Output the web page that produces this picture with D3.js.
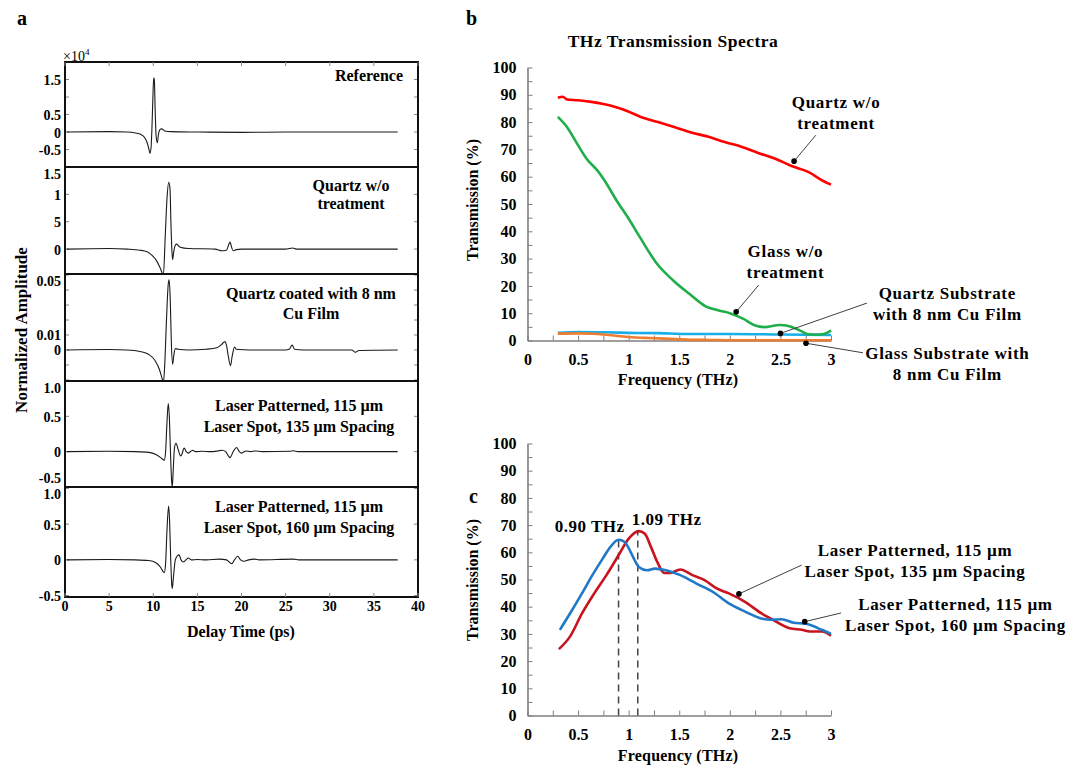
<!DOCTYPE html>
<html>
<head>
<meta charset="utf-8">
<script src="https://d3js.org/d3.v7.min.js"></script>
<style>
body { margin: 0; background: #fff; }
svg { display: block; }
text { font-family: 'Liberation Serif', 'Times New Roman', serif; font-weight: bold; fill: #000; }
</style>
</head>
<body>
<svg width="1083" height="765"></svg>
<script>
// ---------- panel a : time-domain pulses, [delay (ps), amplitude] ----------
var refTrace = [[0.2,0],[5,0.01],[7,0],[8,-0.03],[8.6,-0.07],[9.0,-0.15],[9.3,-0.3],[9.5,-0.48],[9.63,-0.61],
  [9.75,-0.45],[9.85,0.1],[9.95,0.9],[10.05,1.55],[10.12,1.5],[10.22,0.6],[10.32,-0.1],[10.46,-0.31],[10.6,-0.05],
  [10.8,0.08],[10.96,0.09],[11.3,0.03],[12,0.01],[15,0],[20,-0.01],[25,0],[30,0],[37.7,0]];
var quartzTrace = [[0.2,0],[5,0.01],[7,0],[8.5,-0.02],[9.3,-0.05],[9.9,-0.12],[10.4,-0.22],[10.8,-0.35],[11.15,-0.47],
  [11.35,0.2],[11.55,0.9],[11.75,1.22],[11.9,1.1],[12.0,0.5],[12.12,-0.05],[12.2,-0.19],[12.32,-0.05],[12.5,0.07],
  [12.65,0.09],[13,0.04],[14,0.01],[17,0],[17.8,-0.03],[18.3,-0.02],[18.55,0.08],[18.7,0.13],[18.85,0.05],[19.05,-0.03],
  [19.4,-0.01],[20,0],[25,0],[25.8,0.02],[26.2,0],[30,0],[37.7,0]];
var cuTrace = [[0.2,0],[5,0.0003],[7,0],[8.5,-0.001],[9.5,-0.003],[10.2,-0.007],[10.7,-0.013],[11.0,-0.019],[11.15,-0.022],
  [11.3,-0.01],[11.5,0.02],[11.7,0.044],[11.8,0.0468],[11.92,0.035],[12.05,0.005],[12.2,-0.0095],[12.32,-0.004],
  [12.5,0.001],[12.8,0.0005],[14,0],[16,0.0005],[17.2,0.0015],[17.8,0.004],[18.1,0.0056],[18.3,0.003],[18.5,-0.004],
  [18.75,-0.0105],[18.95,-0.004],[19.2,0.002],[19.4,0.0005],[21,0],[25,0],[25.4,0.0005],[25.75,0.0033],[26,0.0005],
  [27,0],[32.5,0],[32.9,-0.0015],[33.3,-0.0003],[37.7,0]];
var spot135Trace = [[0.2,0],[5,0.005],[8,0],[9.5,-0.01],[10.3,-0.04],[10.8,-0.08],[11.1,-0.11],[11.25,-0.12],[11.4,0.0],
  [11.55,0.4],[11.7,0.68],[11.82,0.5],[11.95,0.0],[12.1,-0.45],[12.16,-0.49],[12.25,-0.3],[12.4,0.05],[12.58,0.12],
  [12.8,0.04],[13.1,-0.06],[13.2,-0.05],[13.5,0.05],[13.75,0.0],[13.97,-0.02],[14.2,0.0],[14.47,0.02],[14.8,0],
  [15.5,0.005],[16.5,0],[17.3,0.01],[17.8,0.02],[18.2,0.0],[18.7,-0.085],[19.05,0.0],[19.45,0.06],[19.75,0.0],
  [20.0,-0.02],[20.5,0.01],[21,0],[21.6,0.01],[22.3,0],[25.5,0.005],[25.9,0.012],[26.4,0],[37.7,0]];
var spot160Trace = [[0.2,0],[5,0.005],[8,0],[9.5,-0.01],[10.3,-0.04],[10.8,-0.1],[11.1,-0.16],[11.25,-0.18],[11.4,-0.05],
  [11.55,0.4],[11.74,0.755],[11.85,0.55],[11.98,0.0],[12.1,-0.35],[12.16,-0.4],[12.28,-0.25],[12.5,0.0],[12.75,0.06],
  [12.92,0.07],[13.15,0.0],[13.4,-0.03],[13.7,0.0],[13.97,0.025],[14.3,0],[15,0.005],[16,0],[17.5,0.01],[18.3,0.0],
  [18.9,-0.055],[19.2,0],[19.57,0.05],[19.9,0.0],[20.3,-0.02],[20.8,0],[21.5,0.01],[22,0],[25.9,0.01],[26.5,0],[37.7,0]];

var aTraces = [refTrace, quartzTrace, cuTrace, spot135Trace, spot160Trace];
var aTitles = [["Reference"], ["Quartz w/o", "treatment"], ["Quartz coated with 8 nm", "Cu Film"],
  ["Laser Patterned, 115 \u00b5m", "Laser Spot, 135 \u00b5m Spacing"],
  ["Laser Patterned, 115 \u00b5m", "Laser Spot, 160 \u00b5m Spacing"]];
var aDomains = [[-1, 2], [-0.455, 1.5], [-0.0207, 0.0507], [-0.5, 1.0], [-0.52, 1.02]];
var aTickValues = [[1.5, 1, 0.5, 0, -0.5], [1.5, 1, 0.5, 0], [0.05, 0.04, 0.03, 0.02, 0.01, 0, -0.01, -0.02],
  [1, 0.5, 0, -0.5], [1, 0.5, 0, -0.5]];
var aTickLabels = [["1.5", "", "0.5", "0", "-0.5"], ["1.5", "1", "5", "0"], ["0.05", "", "", "", "0.01", "0", "", ""],
  ["1.0", "0.5", "0", "-0.5"], ["1.0", "0.5", "0", "-0.5"]];
var delayTicks = [0, 5, 10, 15, 20, 25, 30, 35, 40];

// ---------- panel b : transmission spectra ----------
var quartzFreq = [0.3,0.35,0.39,0.5,0.63,0.75,0.86,0.99,1.12,1.29,1.45,1.62,1.79,1.95,2.12,2.28,2.45,2.61,2.78,2.91,3.0];
var quartzT    = [88.9,89.3,88.3,88.0,87.4,86.6,85.6,84.0,81.9,80.0,78.2,76.2,74.6,72.7,70.9,68.7,66.6,63.9,61.7,58.7,57.1];
var glassFreq = [0.3,0.39,0.49,0.59,0.69,0.76,0.88,1.0,1.12,1.28,1.44,1.6,1.76,1.89,2.0,2.13,2.25,2.35,2.49,2.59,2.69,2.79,2.89,2.97,3.0];
var glassT    = [81.9,78.2,72.1,66.3,62.3,58.7,51.3,44.6,37.3,28.1,22.0,17.1,12.5,11.0,10.0,8.0,5.5,4.9,5.7,5.2,3.7,2.2,2.2,3.0,3.7];
var quartzCuFreq = [0.3,0.5,0.76,1.0,1.3,1.56,2.0,2.5,3.0];
var quartzCuT    = [2.8,3.1,3.0,2.8,2.7,2.4,2.4,2.2,2.0];
var glassCuFreq = [0.3,0.5,0.65,0.8,1.0,1.2,1.4,1.6,1.8,2.0,2.5,3.0];
var glassCuT    = [2.5,2.6,2.5,2.0,1.3,0.9,0.6,0.3,0.2,0.1,0.1,0.1];

// ---------- panel c : laser patterned samples ----------
var s160Freq = [0.32,0.42,0.54,0.64,0.74,0.82,0.9,0.96,1.02,1.06,1.1,1.18,1.26,1.37,1.51,1.67,1.83,1.99,2.15,2.31,2.41,2.51,2.63,2.75,2.91,3.0];
var s160T    = [31.5,37.5,45.0,51.5,57.5,62.0,64.6,63.8,60.1,57.0,54.6,53.4,54.0,53.4,51.6,48.5,45.5,41.2,38.2,35.7,35.2,35.4,34.1,33.7,31.5,30.0];
var s135Freq = [0.31,0.42,0.54,0.66,0.78,0.9,1.0,1.1,1.16,1.22,1.29,1.35,1.41,1.51,1.63,1.75,1.87,1.99,2.15,2.31,2.43,2.59,2.71,2.79,2.91,3.0];
var s135T    = [24.4,29.0,37.6,44.9,51.6,58.9,65.0,67.8,66.8,62.0,55.9,52.4,52.4,53.7,51.6,49.8,46.7,44.9,41.8,37.6,35.1,32.1,31.5,30.9,30.9,29.3];
var peakFreq = [0.90, 1.09];
var peakT = [64.6, 67.8];
var peakLabels = ["0.90 THz", "1.09 THz"];

var svg = d3.select("svg");

// =================== panel a ===================
var aBreaks = [62, 167, 274, 381, 487, 597];
var xA = d3.scaleLinear().domain([0, 40]).range([65, 418]);
var aTitlePos = [
  { x: 403, anchor: "end", y: [81] },
  { x: 351, anchor: "middle", y: [191, 209] },
  { x: 311, anchor: "middle", y: [299, 319] },
  { x: 299, anchor: "middle", y: [411, 432] },
  { x: 299, anchor: "middle", y: [512, 533] }
];

aTraces.forEach(function (trace, i) {
  var top = aBreaks[i], bottom = aBreaks[i + 1];
  var y = d3.scaleLinear().domain(aDomains[i]).range([bottom, top]);
  var g = svg.append("g");

  g.append("clipPath").attr("id", "clipA" + i)
    .append("rect").attr("x", xA(0)).attr("y", top).attr("width", xA(40) - xA(0)).attr("height", bottom - top);

  // tick labels; at shared borders keep them inside their own box
  aTickValues[i].forEach(function (v, k) {
    if (aTickLabels[i][k] === "") return;
    var base = y(v) + 5.5;
    if (i > 0) base = Math.max(base, top + 11.5);
    if (i < aTraces.length - 1) base = Math.min(base, bottom - 4);
    g.append("text").attr("x", 61).attr("y", base)
      .attr("text-anchor", "end").style("font-size", "14px").text(aTickLabels[i][k]);
  });
  // inward ticks, both sides
  g.selectAll("line.lt").data(aTickValues[i]).enter().append("line")
    .attr("x1", xA(0)).attr("x2", xA(0) + 4).attr("y1", y).attr("y2", y)
    .attr("stroke", "#888").attr("stroke-width", 1);
  g.selectAll("line.rt").data(aTickValues[i]).enter().append("line")
    .attr("x1", xA(40)).attr("x2", xA(40) - 4).attr("y1", y).attr("y2", y)
    .attr("stroke", "#888").attr("stroke-width", 1);

  var line = d3.line().x(function (d) { return xA(d[0]); }).y(function (d) { return y(d[1]); })
    .curve(d3.curveMonotoneX);
  g.append("path").datum(trace).attr("d", line)
    .attr("clip-path", "url(#clipA" + i + ")")
    .attr("fill", "none").attr("stroke", "#1a1a1a").attr("stroke-width", 1.1);

  var tp = aTitlePos[i];
  aTitles[i].forEach(function (t, k) {
    g.append("text").attr("x", tp.x).attr("y", tp.y[k]).attr("text-anchor", tp.anchor)
      .style("font-size", "16px").text(t);
  });

  g.append("rect").attr("x", xA(0)).attr("y", top).attr("width", xA(40) - xA(0)).attr("height", bottom - top)
    .attr("fill", "none").attr("stroke", "#111").attr("stroke-width", 2);
});

// x ticks for panel a
delayTicks.forEach(function (t) {
  svg.append("line").attr("x1", xA(t)).attr("x2", xA(t)).attr("y1", 597).attr("y2", 593)
    .attr("stroke", "#888");
  svg.append("line").attr("x1", xA(t)).attr("x2", xA(t)).attr("y1", 62).attr("y2", 66)
    .attr("stroke", "#888");
  svg.append("text").attr("x", xA(t)).attr("y", 611).attr("text-anchor", "middle")
    .style("font-size", "14px").text(t);
});

var mult = svg.append("text").attr("x", 63).attr("y", 61).style("font-size", "14px").style("font-weight", "normal");
mult.append("tspan").text("\u00d710");
mult.append("tspan").attr("dy", -6).style("font-size", "9px").text("4");

svg.append("text").attr("x", 241).attr("y", 637).attr("text-anchor", "middle")
  .style("font-size", "16px").text("Delay Time (ps)");
svg.append("text").attr("transform", "translate(27,330) rotate(-90)").attr("text-anchor", "middle")
  .style("font-size", "17px").text("Normalized Amplitude");
svg.append("text").attr("x", 17).attr("y", 25).style("font-size", "20px").text("a");

// =================== panels b & c ===================
var xB = d3.scaleLinear().domain([0, 3]).range([527.5, 831]);

function drawFreqAxes(y, bottomY) {
  var g = svg.append("g");
  var yAxis = d3.axisLeft(y).tickValues(d3.range(0, 101, 5)).tickSizeInner(-5).tickSizeOuter(0)
    .tickPadding(11).tickFormat(function (d) { return d % 10 === 0 ? d : ""; });
  var xAxis = d3.axisBottom(xB).tickValues(d3.range(0, 3.001, 0.25)).tickSizeInner(-5).tickSizeOuter(0)
    .tickPadding(13).tickFormat(function (d) { return (d * 2) % 1 === 0 ? d : ""; });
  g.append("g").attr("transform", "translate(" + xB(0) + ",0)").call(yAxis);
  g.append("g").attr("transform", "translate(0," + bottomY + ")").call(xAxis);
  g.selectAll(".domain").attr("stroke", "#7f7f7f").attr("stroke-width", 1.6);
  g.selectAll(".tick line").attr("stroke", "#7f7f7f").attr("stroke-width", 1);
  g.selectAll(".tick text").attr("font-family", null).style("font-size", "16px").attr("fill", "#000");
  return g;
}

function series(freq, vals) {
  return freq.map(function (f, i) { return [f, vals[i]]; });
}

function drawLine(y, data, color) {
  var line = d3.line().x(function (d) { return xB(d[0]); }).y(function (d) { return y(d[1]); })
    .curve(d3.curveMonotoneX);
  svg.append("path").datum(data).attr("d", line)
    .attr("fill", "none").attr("stroke", color).attr("stroke-width", 2.6).attr("stroke-linejoin", "round");
}

function label(x, y, t, size, spacing) {
  return svg.append("text").attr("x", x).attr("y", y).attr("text-anchor", "middle")
    .style("font-size", size + "px").style("letter-spacing", spacing + "px").text(t);
}

function annotate(y, dot, start, lines, textF, baseT, lineGap) {
  svg.append("line").attr("x1", xB(start[0])).attr("y1", y(start[1]))
    .attr("x2", xB(dot[0])).attr("y2", y(dot[1])).attr("stroke", "#404040").attr("stroke-width", 1);
  svg.append("circle").attr("cx", xB(dot[0])).attr("cy", y(dot[1])).attr("r", 2.8).attr("fill", "#000");
  lines.forEach(function (t, k) {
    label(xB(textF), y(baseT) + k * lineGap, t, 17, 0.7);
  });
}

// ---- panel b ----
var yB = d3.scaleLinear().domain([0, 100]).range([340.5, 67.5]);
drawFreqAxes(yB, 340.5);
drawLine(yB, series(quartzCuFreq, quartzCuT), "#19aee8");
drawLine(yB, series(glassCuFreq, glassCuT), "#ee7d30");
drawLine(yB, series(glassFreq, glassT), "#1fae4a");
drawLine(yB, series(quartzFreq, quartzT), "#ff0000");

label(673, 47, "THz Transmission Spectra", 17.5, 0.5);
svg.append("text").attr("transform", "translate(478,200) rotate(-90)").attr("text-anchor", "middle")
  .style("font-size", "16px").text("Transmission (%)");
label(678, 385, "Frequency (THz)", 16, 0.2);
svg.append("text").attr("x", 466).attr("y", 25).style("font-size", "20px").text("b");

annotate(yB, [2.635, 65.7], [2.85, 75.2], ["Quartz w/o", "treatment"], 3.05, 85.2, 21);
annotate(yB, [2.063, 10.5], [2.285, 20.3], ["Glass w/o", "treatment"], 2.55, 30.5, 21);
annotate(yB, [2.50, 2.6], [3.355, 13.7], ["Quartz Substrate", "with 8 nm Cu Film"], 4.15, 15.3, 21);
annotate(yB, [2.753, -1.0], [3.316, -4.5], ["Glass Substrate with", "8 nm Cu Film"], 4.15, -6.8, 21);

// ---- panel c ----
var yC = d3.scaleLinear().domain([0, 100]).range([715.5, 443.5]);
drawFreqAxes(yC, 715.5);
peakFreq.forEach(function (f, i) {
  svg.append("line").attr("x1", xB(f)).attr("x2", xB(f)).attr("y1", yC(0)).attr("y2", yC(peakT[i]))
    .attr("stroke", "#444").attr("stroke-width", 1.5).attr("stroke-dasharray", "7,5");
});
drawLine(yC, series(s135Freq, s135T), "#c8141e");
drawLine(yC, series(s160Freq, s160T), "#1f78c8");

label(xB(0.615), yC(67.3), peakLabels[0], 17, 0.5);
label(xB(1.375), yC(70.2), peakLabels[1], 17, 0.5);

svg.append("text").attr("transform", "translate(478,580) rotate(-90)").attr("text-anchor", "middle")
  .style("font-size", "16px").text("Transmission (%)");
label(678, 761, "Frequency (THz)", 16, 0.2);
svg.append("text").attr("x", 469).attr("y", 503).style("font-size", "20px").text("c");

annotate(yC, [2.09, 44.7], [2.71, 55.3], ["Laser Patterned, 115 \u00b5m", "Laser Spot, 135 \u00b5m Spacing"], 3.83, 58.6, 21);
annotate(yC, [2.74, 34.5], [3.1, 37.7], ["Laser Patterned, 115 \u00b5m", "Laser Spot, 160 \u00b5m Spacing"], 4.23, 38.7, 21);
</script>
</body>
</html>
